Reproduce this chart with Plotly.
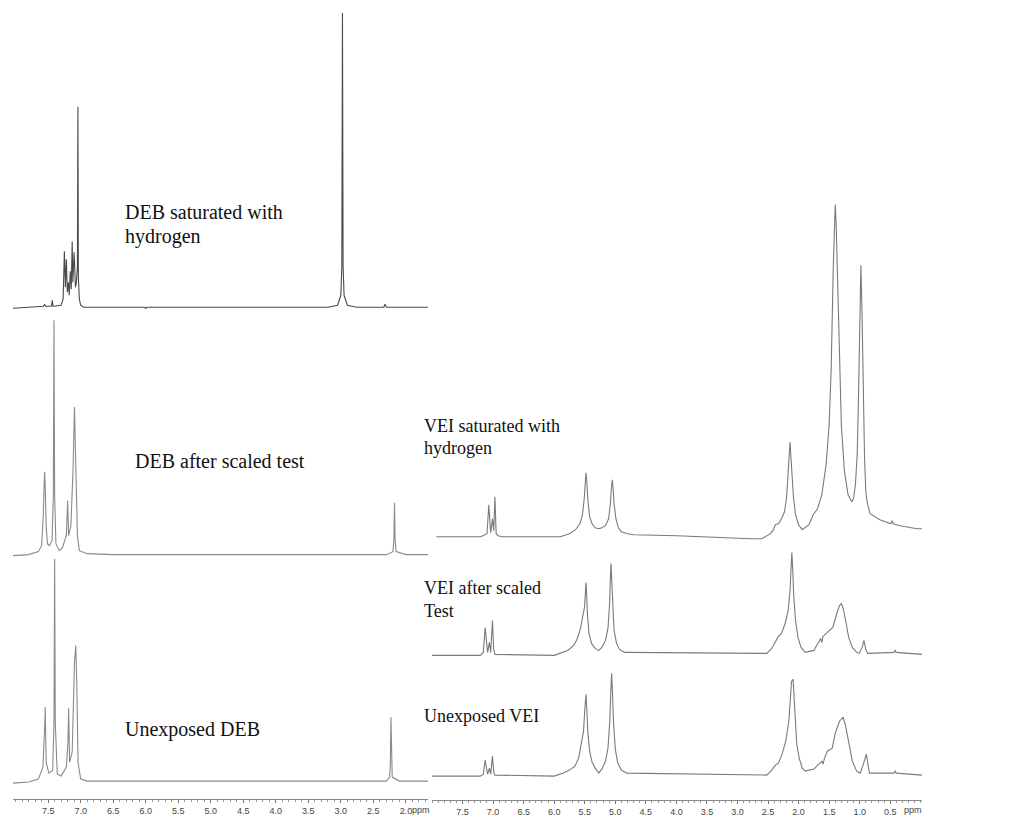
import plotly.graph_objects as go

W, H = 1018, 817

# ---------------- data (chemical shift in ppm, relative intensity a.u.) ----------------
DEB_SAT_PPM = [8.04, 7.70, 7.57, 7.555, 7.54, 7.45, 7.435, 7.425, 7.41, 7.30, 7.27, 7.25, 7.235, 7.22,
               7.205, 7.19, 7.175, 7.16, 7.145, 7.13, 7.12, 7.10, 7.08, 7.065, 7.05, 7.042, 7.035, 7.02,
               7.0, 6.95, 6.02, 6.0, 5.98, 3.2, 3.05, 3.0, 2.985, 2.975, 2.965, 2.95, 2.9, 2.75,
               2.34, 2.32, 2.30, 1.66]
DEB_SAT_INT = [-1, 0, 1, 3, 1, 1, 7, 1, 1, 2, 8, 56, 20, 48,
               15, 25, 12, 36, 18, 66, 25, 55, 20, 25, 40, 201, 30, 8,
               2, 0, 0, -1, 0, 0, 2, 12, 40, 295, 40, 12, 2, 0,
               0, 3, 0, 0]

DEB_TEST_PPM = [8.04, 7.80, 7.65, 7.60, 7.575, 7.555, 7.545, 7.53, 7.51, 7.48, 7.44, 7.42, 7.41, 7.40,
                7.38, 7.33, 7.28, 7.22, 7.20, 7.185, 7.15, 7.115, 7.095, 7.085, 7.065, 7.05, 7.02,
                6.9, 6.5, 2.3, 2.2, 2.185, 2.175, 2.165, 2.15, 2.0, 1.66]
DEB_TEST_INT = [0, 1, 4, 10, 40, 84, 70, 30, 12, 10, 15, 60, 236, 60,
                12, 5, 8, 20, 55, 20, 30, 90, 149, 120, 87, 20, 5,
                2, 1, 1, 4, 15, 53, 15, 4, 1, 1]

DEB_RAW_PPM = [8.04, 7.80, 7.65, 7.58, 7.55, 7.545, 7.53, 7.49, 7.43, 7.41, 7.40, 7.39, 7.36, 7.30,
               7.22, 7.195, 7.185, 7.17, 7.13, 7.095, 7.075, 7.06, 7.04, 7.0, 6.9, 2.3, 2.25,
               2.24, 2.23, 2.22, 2.21, 2.1, 1.66]
DEB_RAW_INT = [-1, 0, 3, 15, 60, 75, 20, 9, 12, 60, 224, 60, 8, 6,
               15, 40, 74, 20, 30, 120, 137, 100, 20, 3, 1, 1, 5,
               15, 65, 15, 5, 1, 1]

VEI_SAT_PPM = [7.93, 7.20, 7.10, 7.07, 7.04, 7.01, 6.99, 6.97, 6.95, 6.92, 6.85,
               5.90, 5.75, 5.65, 5.58, 5.54, 5.51, 5.495, 5.48, 5.465, 5.45, 5.42, 5.38, 5.33,
               5.27, 5.22, 5.16, 5.11, 5.08, 5.065, 5.05, 5.035, 5.02, 4.99, 4.95, 4.90, 4.80,
               4.70, 3.99, 2.79, 2.60, 2.46, 2.42, 2.38, 2.33, 2.28, 2.23, 2.195, 2.17, 2.155,
               2.14, 2.125, 2.11, 2.085, 2.05, 2.00, 1.94, 1.83, 1.76, 1.69, 1.62, 1.55, 1.50,
               1.467, 1.433, 1.415, 1.40, 1.385, 1.367, 1.333, 1.30, 1.25, 1.19, 1.13, 1.10,
               1.07, 1.04, 1.02, 1.00, 0.98, 0.96, 0.94, 0.92, 0.90, 0.88, 0.83, 0.67, 0.49,
               0.47, 0.45, 0.34, 0.06, -0.02]
VEI_SAT_INT = [0, 0, 3, 32, 4, 18, 6, 40, 3, 1, 0,
               0, 3, 7, 13, 21, 37, 54, 64, 54, 37, 20, 13, 9,
               8, 9, 11, 18, 33, 48, 57, 48, 33, 18, 9, 5, 3,
               2, 1, -2, -2, 3, 6, 12, 13, 18, 25, 40, 60, 80,
               95, 80, 60, 40, 22, 12, 7, 12, 22, 28, 42, 72, 112,
               167, 268, 313, 333, 313, 268, 167, 112, 66, 42, 35, 38,
               52, 83, 137, 219, 272, 219, 137, 78, 46, 35, 23, 17, 13,
               16, 13, 11, 8, 8]

VEI_TEST_PPM = [8.0, 7.21, 7.16, 7.13, 7.09, 7.06, 7.04, 7.01, 6.99, 6.97,
                6.0, 5.9, 5.78, 5.68, 5.62, 5.57, 5.53, 5.505, 5.492, 5.48, 5.468, 5.455, 5.43,
                5.39, 5.33, 5.27, 5.22, 5.16, 5.12, 5.095, 5.082, 5.07, 5.058, 5.045, 5.02,
                4.98, 4.93, 4.85, 2.52, 2.44, 2.38, 2.33, 2.28, 2.22, 2.17, 2.14, 2.125, 2.11,
                2.095, 2.08, 2.05, 2.01, 1.96, 1.89, 1.75, 1.64, 1.62, 1.60, 1.53, 1.44, 1.37,
                1.33, 1.30, 1.27, 1.23, 1.18, 1.12, 1.05, 1.01, 0.96, 0.93, 0.90, 0.87,
                0.44, 0.42, 0.40, -0.02]
VEI_TEST_INT = [0, 0, 3, 28, 3, 13, 3, 35, 6, 1,
                0, 2, 5, 10, 17, 27, 38, 48, 60, 73, 60, 40, 22,
                12, 7, 5, 8, 15, 27, 50, 75, 92, 75, 50, 25,
                12, 6, 3, 2, 7, 14, 19, 22, 32, 45, 65, 85, 103,
                85, 60, 35, 18, 8, 3, 5, 17, 13, 19, 23, 28, 43,
                50, 52, 47, 35, 18, 8, 3, 2, 8, 15, 6, 2,
                3, 5, 3, 1]

VEI_RAW_PPM = [8.0, 7.21, 7.16, 7.13, 7.09, 7.06, 7.04, 7.01, 6.99, 6.97,
               6.0, 5.85, 5.75, 5.66, 5.6, 5.56, 5.52, 5.50, 5.48, 5.465, 5.45, 5.42, 5.38,
               5.33, 5.27, 5.22, 5.16, 5.12, 5.09, 5.075, 5.06, 5.045, 5.03, 5.0, 4.96, 4.90,
               4.81, 2.52, 2.44, 2.38, 2.33, 2.27, 2.21, 2.16, 2.13, 2.115, 2.09, 2.075, 2.06,
               2.03, 1.99, 1.94, 1.89, 1.75, 1.62, 1.60, 1.58, 1.53, 1.45, 1.40, 1.33,
               1.27, 1.23, 1.18, 1.12, 1.05, 0.99, 0.94, 0.91, 0.89, 0.86, 0.84,
               0.44, 0.42, 0.40, -0.02]
VEI_RAW_INT = [0, 0, 2, 16, 2, 8, 2, 20, 4, 1,
               0, 3, 6, 10, 18, 30, 45, 66, 82, 66, 45, 25, 14,
               8, 3, 7, 15, 28, 55, 82, 103, 82, 55, 27, 13, 6,
               3, 1, 6, 11, 13, 22, 35, 55, 80, 95, 97, 80, 58,
               32, 18, 8, 5, 7, 15, 12, 17, 25, 28, 43, 55,
               59, 50, 33, 15, 5, 3, 12, 20, 22, 10, 3,
               3, 5, 3, 1]

SPECTRA = [
    ("DEB saturated with hydrogen", DEB_SAT_PPM, DEB_SAT_INT),
    ("DEB after scaled test", DEB_TEST_PPM, DEB_TEST_INT),
    ("Unexposed DEB", DEB_RAW_PPM, DEB_RAW_INT),
    ("VEI saturated with hydrogen", VEI_SAT_PPM, VEI_SAT_INT),
    ("VEI after scaled Test", VEI_TEST_PPM, VEI_TEST_INT),
    ("Unexposed VEI", VEI_RAW_PPM, VEI_RAW_INT),
]

LEFT_TICKS = [7.5, 7.0, 6.5, 6.0, 5.5, 5.0, 4.5, 4.0, 3.5, 3.0, 2.5, 2.0]
RIGHT_TICKS = [7.5, 7.0, 6.5, 6.0, 5.5, 5.0, 4.5, 4.0, 3.5, 3.0, 2.5, 2.0, 1.5, 1.0, 0.5]

LABEL_LINES = [
    ["DEB saturated with", "hydrogen"],
    ["DEB after scaled test"],
    ["Unexposed DEB"],
    ["VEI saturated with", "hydrogen"],
    ["VEI after scaled", "Test"],
    ["Unexposed VEI"],
]

# ---------------- layout geometry (pixels) ----------------
BASELINES = [308, 557, 784, 538, 657, 778]
COLORS = ["#4a4a4a", "#8a8a8a", "#8a8a8a", "#7a7a7a", "#7a7a7a", "#7a7a7a"]
LABEL_POS = [(123, [213, 237]), (133, [462]), (123, [731]),
             (422, [427, 449]), (422, [589, 612]), (422, [718])]
LABEL_SIZE = [20, 20, 20, 18, 18, 18]

fig = go.Figure()

for i, (name, ppm, inten) in enumerate(SPECTRA):
    xa = "x" if i < 3 else "x2"
    ya = "y" if i == 0 else f"y{i + 1}"
    fig.add_trace(go.Scatter(x=ppm, y=inten, mode="lines", name=name,
                             xaxis=xa, yaxis=ya,
                             line=dict(color=COLORS[i], width=1.1),
                             showlegend=False, hoverinfo="skip"))

def px2paper_x(px):
    return px / W

def px2paper_y(py):
    return 1 - py / H

axis_common = dict(showgrid=False, zeroline=False, showline=True, linecolor="#888",
                   linewidth=1, ticks="outside", ticklen=3, tickcolor="#777",
                   tickfont=dict(family="Liberation Sans, Arial", size=9, color="#444"),
                   minor=dict(dtick=0.1, ticks="outside", ticklen=2, tickcolor="#999"),
                   fixedrange=True)

layout = dict(
    width=W, height=H, margin=dict(l=0, r=0, t=0, b=0),
    paper_bgcolor="white", plot_bgcolor="rgba(0,0,0,0)",
    xaxis=dict(domain=[px2paper_x(13), px2paper_x(428)], range=[8.04, 1.66],
               anchor="free", position=px2paper_y(801),
               tickvals=LEFT_TICKS, ticktext=[f"{v:.1f}" for v in LEFT_TICKS], **axis_common),
    xaxis2=dict(domain=[px2paper_x(432), px2paper_x(922)], range=[8.0, -0.02],
                anchor="free", position=px2paper_y(802),
                tickvals=RIGHT_TICKS, ticktext=[f"{v:.1f}" for v in RIGHT_TICKS], **axis_common),
)

for i, base in enumerate(BASELINES):
    key = "yaxis" if i == 0 else f"yaxis{i + 1}"
    ax = dict(domain=[0, 1], range=[base - H, base], visible=False, fixedrange=True,
              anchor="x" if i < 3 else "x2")
    if i in (1, 2):
        ax["overlaying"] = "y"
    if i in (4, 5):
        ax["overlaying"] = "y4"
    layout[key] = ax

fig.update_layout(**layout)

annotations = []
for (x0, ys), lines, fs in zip(LABEL_POS, LABEL_LINES, LABEL_SIZE):
    for yy, txt in zip(ys, lines):
        annotations.append(dict(x=px2paper_x(x0), y=px2paper_y(yy), xref="paper", yref="paper",
                                text=txt, showarrow=False, xanchor="left", yanchor="middle",
                                font=dict(family="Liberation Serif, Times New Roman", size=fs,
                                          color="#111")))
for xp, yp in [(421, 812), (913, 812)]:
    annotations.append(dict(x=px2paper_x(xp), y=px2paper_y(yp), xref="paper", yref="paper",
                            text="ppm", showarrow=False, xanchor="center", yanchor="middle",
                            font=dict(family="Liberation Sans, Arial", size=9, color="#444")))
fig.update_layout(annotations=annotations)

fig.write_html("out.html")
